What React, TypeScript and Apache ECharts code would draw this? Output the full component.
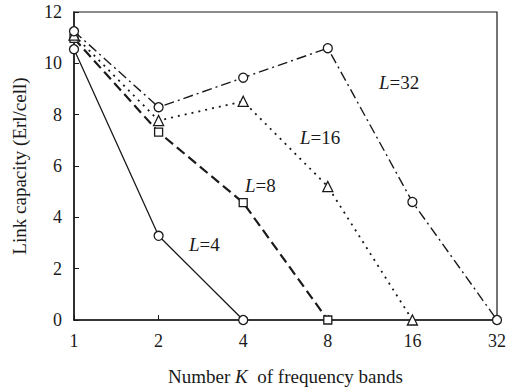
import React, { useEffect, useRef } from "react";
import * as echarts from "echarts";

const categories = ["1", "2", "4", "8", "16", "32"];
const yTicks = { min: 0, max: 12, interval: 2 };
const seriesL4 = [10.55, 3.28, 0];
const seriesL8 = [10.97, 7.32, 4.57, 0];
const seriesL16 = [11.1, 7.77, 8.52, 5.2, 0];
const seriesL32 = [11.25, 8.29, 9.44, 10.59, 4.6, 0];
const labelTexts = ["=4", "=8", "=16", "=32"];

const FONT = "Liberation Serif";
const INK = "#1a1a1a";
const FS_TICK = 18;
const FS_NAME = 19;
const FS_LBL = 19;

export default function App() {
  const ref = useRef<HTMLDivElement>(null);
  useEffect(() => {
    document.body.style.margin = "0";
    if (!ref.current) return;
    const chart = echarts.init(ref.current, undefined, { renderer: "svg" });
    const mk = (
      name: string,
      data: number[],
      symbol: string,
      lineType: any,
      width: number,
      size: number
    ) => ({
      name,
      type: "line",
      data,
      symbol,
      symbolSize: size,
      showAllSymbol: true,
      lineStyle: { color: INK, width, type: lineType },
      itemStyle: { color: "#fff", borderColor: INK, borderWidth: 1.3 },
      z: 3,
    });
    const labelPos = [
      [189, 246],
      [245, 187],
      [300, 139],
      [379, 84],
    ];
    chart.setOption({
      animation: false,
      backgroundColor: "#fff",
      textStyle: { fontFamily: FONT, color: INK },
      grid: {
        left: 74,
        right: 19,
        top: 12,
        bottom: 69,
        show: true,
        borderColor: INK,
        borderWidth: 1.2,
        backgroundColor: "transparent",
      },
      xAxis: {
        type: "category",
        data: categories,
        boundaryGap: false,
        axisLine: { lineStyle: { color: INK, width: 1.5 } },
        axisTick: { inside: true, length: 5, alignWithLabel: true, lineStyle: { color: INK } },
        axisLabel: { fontFamily: FONT, fontSize: FS_TICK, color: INK, margin: 12 },
        splitLine: { show: false },
        name: "{a|Number }{i|K}{a|  of frequency bands}",
        nameLocation: "middle",
        nameGap: 47,
        nameTextStyle: {
          rich: {
            a: { fontFamily: FONT, fontSize: FS_NAME, color: INK },
            i: { fontFamily: FONT, fontSize: FS_NAME, color: INK, fontStyle: "italic" },
          },
        },
      },
      yAxis: {
        type: "value",
        min: yTicks.min,
        max: yTicks.max,
        interval: yTicks.interval,
        axisLine: { show: true, lineStyle: { color: INK, width: 1.5 } },
        axisTick: { show: true, inside: true, length: 5, lineStyle: { color: INK } },
        axisLabel: { fontFamily: FONT, fontSize: FS_TICK, color: INK, margin: 12 },
        splitLine: { show: false },
        name: "Link capacity (Erl/cell)",
        nameLocation: "middle",
        nameGap: 45,
        nameTextStyle: { fontFamily: FONT, fontSize: FS_NAME, color: INK },
      },
      graphic: labelTexts.map((t, i) => ({
        type: "text",
        left: labelPos[i][0],
        top: labelPos[i][1] - 11,
        style: {
          text: "{i|L}{a|" + t + "}",
          rich: {
            a: { fontFamily: FONT, fontSize: FS_LBL, fill: INK },
            i: { fontFamily: FONT, fontSize: FS_LBL, fill: INK, fontStyle: "italic" },
          },
        },
      })),
      series: [
        mk("L=4", seriesL4, "circle", "solid", 1.3, 9),
        mk("L=8", seriesL8, "rect", [10, 5], 2.2, 8),
        mk("L=16", seriesL16, "triangle", [2, 5], 1.8, 10),
        mk("L=32", seriesL32, "circle", [10, 4, 2, 4], 1.4, 9),
      ],
    });
    return () => chart.dispose();
  }, []);
  return <div ref={ref} style={{ width: 516, height: 391 }} />;
}
